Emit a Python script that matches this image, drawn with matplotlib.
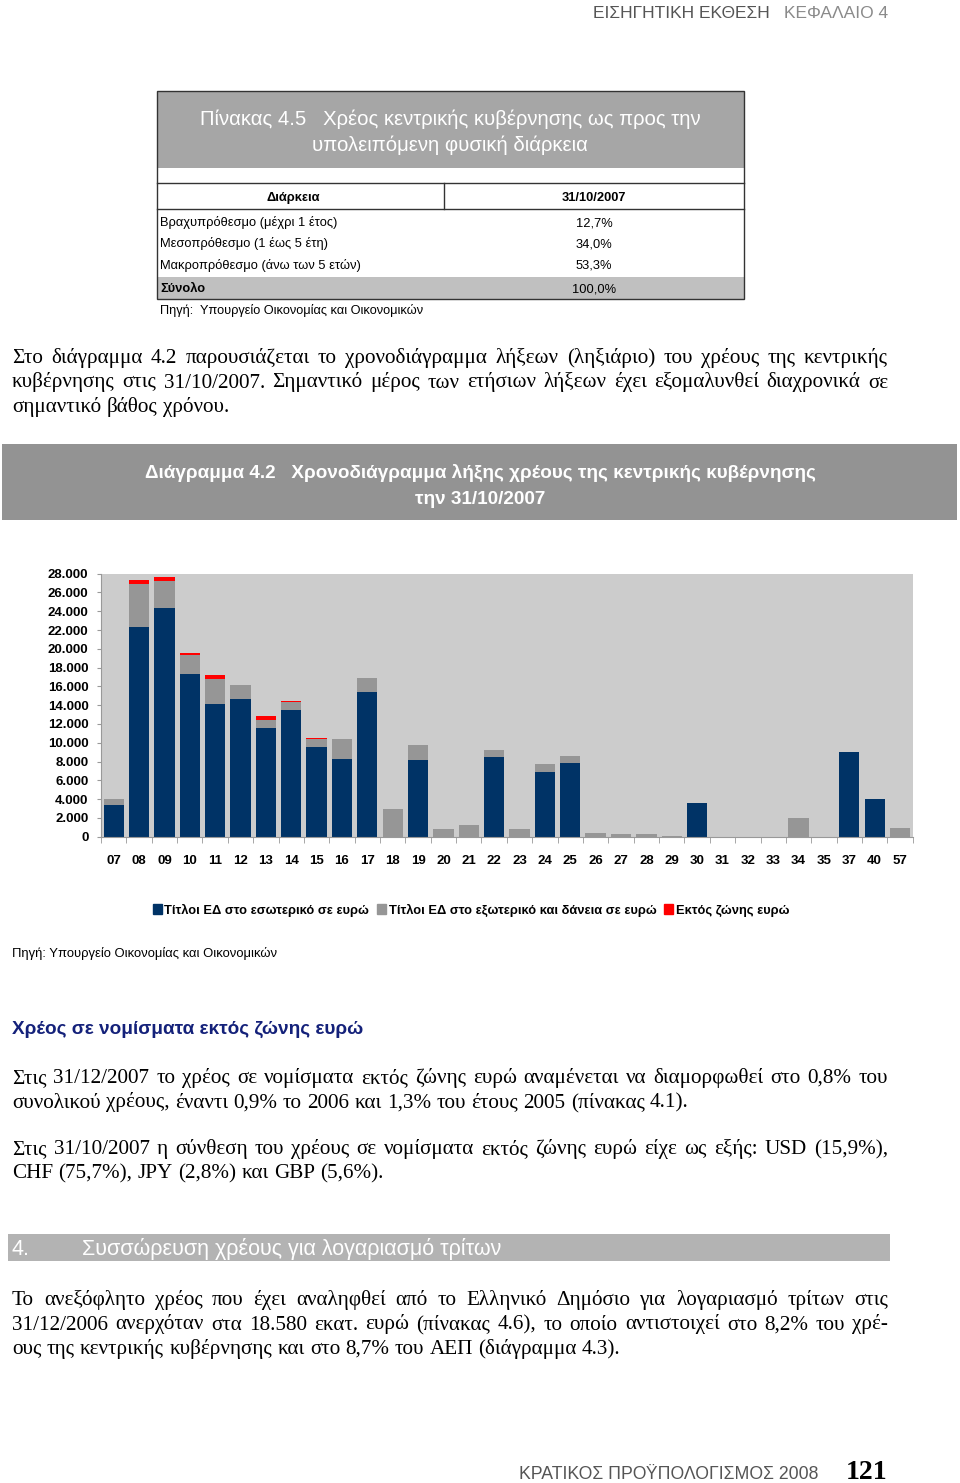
import matplotlib
matplotlib.use("Agg")
import matplotlib.pyplot as plt
from matplotlib.patches import Rectangle, Patch
from matplotlib.ticker import FuncFormatter
import numpy as np

SANS = "Liberation Sans"
SERIF = "Liberation Serif"

# chart data (millions of euro)
years = ["07", "08", "09", "10", "11", "12", "13", "14", "15", "16", "17", "18", "19", "20",
         "21", "22", "23", "24", "25", "26", "27", "28", "29", "30", "31", "32", "33", "34",
         "35", "37", "40", "57"]
domestic = [3400, 22300, 24300, 17300, 14100, 14700, 11600, 13500, 9500, 8300, 15450, 0,
            8150, 0, 0, 8500, 0, 6900, 7850, 0, 0, 0, 0, 3550, 0, 0, 0, 0, 0, 9000, 4000, 0]
foreign = [580, 4600, 2900, 2000, 2700, 1400, 800, 800, 900, 2050, 1450, 2900, 1600, 780,
           1250, 780, 780, 820, 750, 400, 280, 250, 60, 0, 0, 0, 0, 1950, 0, 0, 0, 950]
non_euro = [60, 450, 400, 250, 400, 100, 500, 100, 60, 80, 0, 80, 0, 70, 0, 0, 0, 0, 0, 0,
            0, 0, 0, 0, 0, 0, 0, 0, 0, 0, 0, 0]
series_labels = ["Τίτλοι ΕΔ στο εσωτερικό σε ευρώ",
                 "Τίτλοι ΕΔ στο εξωτερικό και δάνεια σε ευρώ",
                 "Εκτός ζώνης ευρώ"]

# table data
table_rows = ["Βραχυπρόθεσμο (μέχρι 1 έτος)", "Μεσοπρόθεσμο (1 έως 5 έτη)",
              "Μακροπρόθεσμο (άνω των 5 ετών)"]
table_vals = ["12,7%", "34,0%", "53,3%"]
total_label, total_val = "Σύνολο", "100,0%"

para1 = ["Στο διάγραμμα 4.2 παρουσιάζεται το χρονοδιάγραμμα λήξεων (ληξιάριο) του χρέους της κεντρικής",
         "κυβέρνησης στις 31/10/2007. Σημαντικό μέρος των ετήσιων λήξεων έχει εξομαλυνθεί διαχρονικά σε",
         "σημαντικό βάθος χρόνου."]
para2 = ["Στις 31/12/2007 το χρέος σε νομίσματα εκτός ζώνης ευρώ αναμένεται να διαμορφωθεί στο 0,8% του",
         "συνολικού χρέους, έναντι 0,9% το 2006 και 1,3% του έτους 2005 (πίνακας 4.1)."]
para3 = ["Στις 31/10/2007 η σύνθεση του χρέους σε νομίσματα εκτός ζώνης ευρώ είχε ως εξής: USD (15,9%),",
         "CHF (75,7%), JPY (2,8%) και GBP (5,6%)."]
para4 = ["Το ανεξόφλητο χρέος που έχει αναληφθεί από το Ελληνικό Δημόσιο για λογαριασμό τρίτων στις",
         "31/12/2006 ανερχόταν στα 18.580 εκατ. ευρώ (πίνακας 4.6), το οποίο αντιστοιχεί στο 8,2% του χρέ-",
         "ους της κεντρικής κυβέρνησης και στο 8,7% του ΑΕΠ (διάγραμμα 4.3)."]

fig = plt.figure(figsize=(9.6, 14.83), dpi=100)
fig.patch.set_facecolor("white")

# page axes in pixel units, y downwards
page = fig.add_axes([0, 0, 1, 1])
page.set_xlim(0, 960)
page.set_ylim(1483, 0)
page.axis("off")

BODY = 15.2


def justify(lines, x0, x1, y, dy, fs):
    r = fig.canvas.get_renderer()
    for i, line in enumerate(lines):
        words = line.split(" ")
        ts = [page.text(0, y + i * dy, w, fontsize=fs, family=SERIF, va="baseline")
              for w in words]
        ws = [t.get_window_extent(r).width for t in ts]
        if i == len(lines) - 1:
            gap = fs * 0.35
        else:
            gap = (x1 - x0 - sum(ws)) / (len(words) - 1)
        x = x0
        for t, w in zip(ts, ws):
            t.set_x(x)
            x += w + gap


# header
page.text(888, 18, "ΚΕΦΑΛΑΙΟ 4", fontsize=12.5, family=SANS, color="#8a8a8a",
          ha="right", va="baseline")
page.text(770, 18, "ΕΙΣΗΓΗΤΙΚΗ ΕΚΘΕΣΗ", fontsize=12.5, family=SANS, color="#555555",
          ha="right", va="baseline")

# table 4.5
page.add_patch(Rectangle((157, 91), 587, 77, facecolor="#a6a6a6", edgecolor="none"))
page.add_patch(Rectangle((157, 277), 587, 22, facecolor="#c0c0c0", edgecolor="none"))
page.add_patch(Rectangle((157, 91), 587, 208, facecolor="none", edgecolor="#333333", lw=1))
page.plot([157, 744], [183, 183], color="#333333", lw=1)
page.plot([157, 744], [209, 209], color="#333333", lw=1)
page.plot([444, 444], [183, 209], color="#333333", lw=1)
page.text(450, 125, "Πίνακας 4.5   Χρέος κεντρικής κυβέρνησης ως προς την", fontsize=14.6,
          family=SANS, color="white", ha="center", va="baseline")
page.text(450, 151, "υπολειπόμενη φυσική διάρκεια", fontsize=14.6, family=SANS,
          color="white", ha="center", va="baseline")
page.text(293, 201, "Διάρκεια", fontsize=9.3, family=SANS, weight="bold", ha="center",
          va="baseline")
page.text(594, 201, "31/10/2007", fontsize=9.3, family=SANS, weight="bold", ha="center",
          va="baseline")
for i, (lab, val) in enumerate(zip(table_rows, table_vals)):
    yy = 226 + i * 21.5
    page.text(160, yy, lab, fontsize=9.3, family=SANS, va="baseline")
    page.text(594, yy, val, fontsize=9.3, family=SANS, ha="center", va="baseline")
page.text(160, 292, total_label, fontsize=9.3, family=SANS, weight="bold", va="baseline")
page.text(594, 292, total_val, fontsize=9.3, family=SANS, ha="center", va="baseline")
page.text(160, 314, "Πηγή:  Υπουργείο Οικονομίας και Οικονομικών", fontsize=9.2,
          family=SANS, va="baseline")

justify(para1, 12, 888, 363, 24.5, BODY)

# diagram title band
page.add_patch(Rectangle((2, 444), 955, 76, facecolor="#939393", edgecolor="none"))
page.text(480, 478, "Διάγραμμα 4.2   Χρονοδιάγραμμα λήξης χρέους της κεντρικής κυβέρνησης",
          fontsize=13.6, family=SANS, weight="bold", color="white", ha="center", va="baseline")
page.text(480, 504, "την 31/10/2007", fontsize=13.6, family=SANS, weight="bold",
          color="white", ha="center", va="baseline")

# chart
ax = fig.add_axes([101 / 960, 1 - 836.7 / 1483, (912.7 - 101) / 960, (836.7 - 573.7) / 1483])
ax.set_facecolor("#cccccc")
x = np.arange(len(years))
d = np.array(domestic)
f = np.array(foreign)
n = np.array(non_euro)
ax.bar(x, d, 0.8, color="#003366", label=series_labels[0])
ax.bar(x, f, 0.8, bottom=d, color="#969696", label=series_labels[1])
ax.bar(x, n, 0.8, bottom=d + f, color="#ff0000", label=series_labels[2])
ax.set_xlim(-0.5, len(years) - 0.5)
ax.set_ylim(0, 28000)
ax.set_yticks(np.arange(0, 28001, 2000))
ax.yaxis.set_major_formatter(FuncFormatter(lambda v, p: f"{int(v):,}".replace(",", ".")))
ax.set_xticks(x)
ax.set_xticklabels(years)
ax.set_xticks(np.arange(-0.5, len(years), 1), minor=True)
ax.tick_params(axis="x", which="major", length=0, pad=13)
ax.tick_params(axis="x", which="minor", length=4, color="#999999")
ax.tick_params(axis="y", length=3, color="#999999", pad=6)
for lab in ax.get_xticklabels() + ax.get_yticklabels():
    lab.set_family(SANS)
    lab.set_weight("bold")
    lab.set_fontsize(9.5)
for s in ["top", "right"]:
    ax.spines[s].set_visible(False)
ax.spines["left"].set_color("#999999")
ax.spines["bottom"].set_color("#999999")

handles = [Patch(color=c, label=l) for c, l in
           zip(["#003366", "#969696", "#ff0000"], series_labels)]
fig.legend(handles=handles, loc="center", bbox_to_anchor=(471 / 960, 1 - 910 / 1483),
           ncol=3, frameon=False, handlelength=0.7, handleheight=0.7, handletextpad=0.2,
           columnspacing=0.6, prop={"family": SANS, "weight": "bold", "size": 9.3})

page.text(12, 957, "Πηγή: Υπουργείο Οικονομίας και Οικονομικών", fontsize=9.4,
          family=SANS, va="baseline")

# section text
page.text(12, 1034, "Χρέος σε νομίσματα εκτός ζώνης ευρώ", fontsize=13.7, family=SANS,
          weight="bold", color="#14217a", va="baseline")
justify(para2, 12, 888, 1083, 24.5, BODY)
justify(para3, 12, 888, 1154, 24.5, BODY)

page.add_patch(Rectangle((8, 1234), 882, 27, facecolor="#b3b3b3", edgecolor="none"))
page.text(12, 1255, "4.", fontsize=15.5, family=SANS, color="white", va="baseline")
page.text(82, 1255, "Συσσώρευση χρέους για λογαριασμό τρίτων", fontsize=15.5, family=SANS,
          color="white", va="baseline")
justify(para4, 12, 888, 1305, 24.5, BODY)

# footer
page.text(818, 1479, "ΚΡΑΤΙΚΟΣ ΠΡΟΫΠΟΛΟΓΙΣΜΟΣ 2008", fontsize=12.7, family=SANS,
          color="#555555", ha="right", va="baseline")
page.text(887, 1479, "121", fontsize=20, family=SERIF, weight="bold", ha="right",
          va="baseline")

fig.savefig("out.png", dpi=100)
